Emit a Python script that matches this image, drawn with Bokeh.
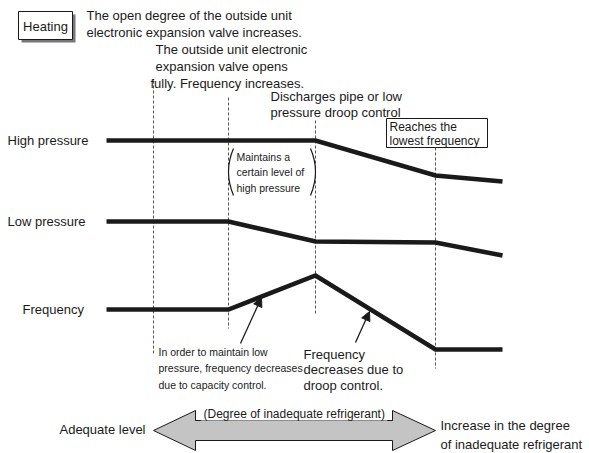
from bokeh.plotting import figure
from bokeh.models import Arrow, NormalHead
from bokeh.core.properties import value
from bokeh.embed import file_html
from bokeh.resources import INLINE

# ---- data (schematic diagram, coordinates in diagram units) ----
time_points = [106, 228, 315, 435, 502]
high_pressure = [140, 140, 140, 175, 181]
low_pressure = [221, 221, 241, 242, 255]
frequency = [309, 309, 275, 349, 349]

phase_x = [153, 228, 315, 435]
phase_top = [80, 97, 120, 147]
phase_bottom = [353, 328, 315, 368]

row_labels = ["High pressure", "Low pressure", "Frequency"]
row_label_x = [7, 7, 22]
row_label_y = [140, 221, 309]

FONT = value("Liberation Sans")
INK = "#1a1a1a"

p = figure(width=589, height=453, x_range=(0, 589), y_range=(453, 0),
           output_backend="svg", toolbar_location=None, min_border=0)
p.axis.visible = False
p.grid.visible = False
p.outline_line_color = None
p.background_fill_color = "white"

# dashed phase lines
p.segment(x0=phase_x, y0=phase_top, x1=phase_x, y1=phase_bottom,
          line_color="#555555", line_width=1, line_dash="3 2")

# series lines
for ys in (high_pressure, low_pressure, frequency):
    p.line(time_points, ys, line_color=INK, line_width=4.5, line_join="miter")

# row labels
p.text(x=row_label_x, y=row_label_y, text=row_labels, text_font=FONT,
       text_font_size="13px", text_baseline="middle", text_color=INK)

# Heating box with shadow
p.quad(left=[21], right=[75], top=[14], bottom=[42], fill_color="#777777", line_color=None)
p.quad(left=[18], right=[72], top=[11], bottom=[39], fill_color="white", line_color=INK, line_width=1)
p.text(x=[45], y=[26], text=["Heating"], text_font=FONT, text_font_size="13px",
       text_align="center", text_baseline="middle", text_color=INK)

# Reaches box
p.quad(left=[386], right=[487], top=[118], bottom=[147], fill_color="white", line_color=INK, line_width=1)

top_texts = [
    ("The open degree of the outside unit", 86, 15),
    ("electronic expansion valve increases.", 86, 32),
    ("The outside unit electronic", 155, 49),
    ("expansion valve opens", 155, 66),
    ("fully. Frequency increases.", 150, 83),
    ("Discharges pipe or low", 270, 96),
    ("pressure droop control", 270, 112),
    ("Frequency", 303, 354),
    ("decreases due to", 303, 369),
    ("droop control.", 303, 385),
    ("Increase in the degree", 440, 425),
    ("of inadequate refrigerant", 440, 444),
]
p.text(x=[t[1] for t in top_texts], y=[t[2] for t in top_texts],
       text=[t[0] for t in top_texts], text_font=FONT, text_font_size="13px",
       text_baseline="middle", text_color=INK)

p.text(x=[389, 389], y=[126, 140], text=["Reaches the", "lowest frequency"],
       text_font=FONT, text_font_size="12px", text_baseline="middle", text_color=INK)

narrow = [
    ("Maintains a", 236, 156),
    ("certain level of", 236, 171),
    ("high pressure", 236, 187),
    ("In order to maintain low", 158, 351),
    ("pressure, frequency decreases", 158, 367),
    ("due to capacity control.", 158, 384),
]
p.text(x=[t[1] for t in narrow], y=[t[2] for t in narrow], text=[t[0] for t in narrow],
       text_font=FONT, text_font_size="10.5px", text_baseline="middle", text_color=INK)

p.text(x=[145], y=[429], text=["Adequate level"], text_font=FONT, text_font_size="13px",
       text_align="right", text_baseline="middle", text_color=INK)

# parentheses
p.quadratic(x0=[233, 310], y0=[148, 148], x1=[233, 310], y1=[195, 195],
            cx=[223, 320], cy=[171, 171], line_color=INK, line_width=1.2)

# pointer arrows
p.add_layout(Arrow(end=NormalHead(size=9, fill_color=INK, line_color=INK, line_width=1),
                   x_start=240, y_start=343, x_end=261, y_end=297, line_color=INK, line_width=1.3))
p.add_layout(Arrow(end=NormalHead(size=9, fill_color=INK, line_color=INK, line_width=1),
                   x_start=355, y_start=342, x_end=369, y_end=311, line_color=INK, line_width=1.3))

# double arrow
ax = [153, 195, 195, 392, 392, 435, 392, 392, 195, 195]
ay = [430, 410, 420, 420, 410, 430, 450, 440, 440, 450]
p.patch(ax, ay, fill_color="#c4c4c4", line_color=INK, line_width=1)
p.quad(left=[200], right=[387], top=[405], bottom=[420], fill_color="white", line_color=None)
p.segment(x0=[195, 387], y0=[420, 420], x1=[200, 392], y1=[420, 420], line_color=INK, line_width=1)
p.text(x=[203], y=[413], text=["(Degree of inadequate refrigerant)"], text_font=FONT,
       text_font_size="12px", text_baseline="middle", text_color=INK)

open("out.html", "w").write(file_html(p, INLINE))
